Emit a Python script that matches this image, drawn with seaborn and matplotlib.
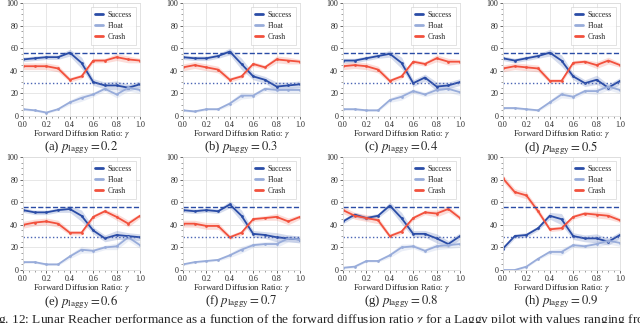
import numpy as np
import pandas as pd
import seaborn as sns
import matplotlib.pyplot as plt
from matplotlib.ticker import MultipleLocator, FormatStrFormatter

sns.set_theme(style="whitegrid")
plt.rcParams['font.family'] = ['Liberation Serif', 'DejaVu Serif']
plt.rcParams['mathtext.fontset'] = 'stix'

gamma = [0.0, 0.1, 0.2, 0.3, 0.4, 0.5, 0.6, 0.7, 0.8, 0.9, 1.0]
p_laggy = [0.2, 0.3, 0.4, 0.5, 0.6, 0.7, 0.8, 0.9]
letters = ['a', 'b', 'c', 'd', 'e', 'f', 'g', 'h']

success = [
    [50, 51, 52, 52, 56, 47, 30, 27, 27, 25, 28],
    [52, 51, 51, 53, 57, 46, 35, 32, 26, 27, 28],
    [49, 49, 51, 53, 55, 47, 29, 34, 26, 27, 30],
    [51, 49, 51, 53, 56, 49, 35, 29, 32, 25, 31],
    [53, 51, 51, 53, 54, 48, 35, 28, 31, 30, 29],
    [53, 52, 53, 52, 58, 48, 32, 31, 29, 28, 27],
    [43, 49, 46, 48, 57, 46, 32, 32, 28, 23, 30],
    [19, 30, 31, 37, 48, 45, 30, 28, 28, 25, 31],
]
float_ = [
    [6, 5, 3, 6, 12, 16, 19, 24, 19, 25, 23],
    [5, 4, 6, 6, 11, 18, 18, 24, 23, 23, 23],
    [6, 6, 5, 5, 14, 17, 22, 19, 23, 24, 21],
    [7, 7, 6, 5, 12, 19, 17, 22, 22, 26, 23],
    [7, 7, 5, 5, 12, 18, 17, 20, 21, 29, 22],
    [5, 7, 8, 9, 13, 18, 22, 23, 23, 28, 27],
    [2, 3, 8, 8, 13, 20, 21, 17, 21, 22, 23],
    [0, 0, 3, 10, 16, 16, 22, 21, 23, 26, 24],
]
crash = [
    [44, 44, 44, 42, 32, 35, 49, 49, 52, 50, 49],
    [43, 45, 43, 41, 32, 35, 46, 43, 50, 49, 48],
    [44, 45, 44, 41, 31, 35, 48, 46, 51, 48, 48],
    [42, 44, 43, 42, 31, 31, 47, 48, 45, 49, 45],
    [40, 42, 43, 41, 33, 33, 47, 52, 47, 41, 48],
    [41, 41, 39, 39, 29, 33, 45, 46, 47, 43, 47],
    [53, 48, 46, 44, 30, 34, 46, 51, 50, 54, 46],
    [81, 69, 66, 52, 36, 37, 47, 50, 49, 48, 44],
]
# rough spread of the shaded bands
success_sd = [2, 2, 2, 2, 3, 5, 3, 3, 4, 3, 3]
float_sd = [1, 1, 1, 1, 2, 3, 2, 2, 3, 3, 3]
crash_sd = [3, 3, 3, 3, 2, 2, 2, 2, 3, 3, 2]

baseline_success = 56
baseline_crash = 29

c_succ = "#2a4ca6"
c_float = "#98acda"
c_crash = "#f2513d"

fig = plt.figure(figsize=(6.4, 3.23), dpi=100)

for i in range(8):
    row, col = divmod(i, 4)
    left = (23 + 160 * col) / 640
    bottom = 0.641 if row == 0 else 0.164
    ax = fig.add_axes([left, bottom, 117 / 640, 0.350])

    df = pd.DataFrame({"gamma": gamma, "Success": success[i],
                       "Float": float_[i], "Crash": crash[i]})
    for name, color, sd in [("Success", c_succ, success_sd),
                            ("Float", c_float, float_sd),
                            ("Crash", c_crash, crash_sd)]:
        y = np.array(df[name], dtype=float)
        ax.fill_between(df["gamma"], y - np.array(sd), y + np.array(sd),
                        color=color, alpha=0.2, lw=0)
        sns.lineplot(data=df, x="gamma", y=name, ax=ax, color=color, lw=1.3,
                     marker="o", markersize=2, markeredgewidth=0, label=name)

    ax.axhline(baseline_success, color=c_succ, ls="--", lw=1)
    ax.axhline(baseline_crash, color="#4a64b4", ls=":", lw=1)

    ax.set_xlim(0, 1)
    ax.set_ylim(0, 100)
    ax.xaxis.set_major_locator(MultipleLocator(0.2))
    ax.xaxis.set_major_formatter(FormatStrFormatter("%.1f"))
    ax.xaxis.set_minor_locator(MultipleLocator(0.05))
    ax.yaxis.set_major_locator(MultipleLocator(20))
    ax.yaxis.set_minor_locator(MultipleLocator(5))
    ax.tick_params(axis="both", which="major", labelsize=5.8, length=2.5,
                   width=0.6, pad=1, left=True, bottom=True, color="#555555")
    ax.tick_params(axis="both", which="minor", length=1.2, width=0.5,
                   left=True, bottom=True, color="#777777")
    ax.grid(True, which="major", color="#e3e3e3", lw=0.6)
    for s in ax.spines.values():
        s.set_color("#dddddd")
        s.set_linewidth(0.6)
    ax.set_ylabel("")
    ax.set_xlabel("Forward Diffusion Ratio: $\\gamma$", fontsize=6.3, labelpad=-0.3)

    leg = ax.legend(loc="upper right", fontsize=5.6, frameon=True,
                    handlelength=1.1, handletextpad=0.6, borderpad=0.5,
                    labelspacing=0.4, fancybox=False)
    leg.get_frame().set_edgecolor("#cccccc")
    leg.get_frame().set_linewidth(0.5)
    for h in leg.get_lines():
        h.set_linewidth(2)
        h.set_marker("")

    cy = 1 - (148 if row == 0 else 302) / 323
    fig.text(left + 117 / 1280, cy,
             f"({letters[i]}) $p_{{\\mathrm{{laggy}}}} = {p_laggy[i]}$",
             ha="center", va="center", fontsize=9.2)

fig.text(-0.02, 1 - 320 / 323,
         "Fig. 12: Lunar Reacher performance as a function of the forward diffusion "
         "ratio $\\gamma$ for a Laggy pilot with values ranging from",
         ha="left", va="center", fontsize=9.6)

plt.savefig("out.png", dpi=100)
